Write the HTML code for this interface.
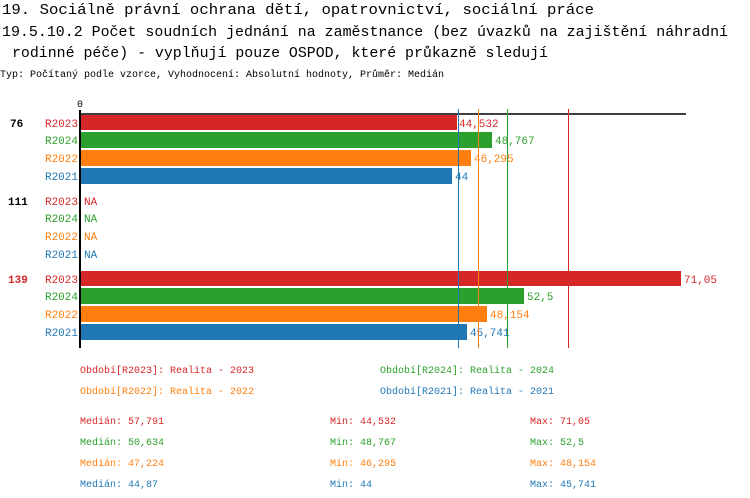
<!DOCTYPE html>
<html><head><meta charset="utf-8"><style>
body{margin:0;background:#fff;}
svg{display:block;font-family:"Liberation Mono",monospace;}
</style></head><body>
<svg width="750" height="498" xmlns="http://www.w3.org/2000/svg">
<g font-size="15" fill="#000">
<text x="2" y="14" textLength="592" lengthAdjust="spacingAndGlyphs">19. Sociálně právní ochrana dětí, opatrovnictví, sociální práce</text>
<text x="2" y="36" textLength="726" lengthAdjust="spacingAndGlyphs">19.5.10.2 Počet soudních jednání na zaměstnance (bez úvazků na zajištění náhradní</text>
<text x="12" y="57" textLength="536" lengthAdjust="spacingAndGlyphs">rodinné péče) - vyplňují pouze OSPOD, které průkazně sledují</text>
</g>
<text x="0" y="77" font-size="10" textLength="444" lengthAdjust="spacingAndGlyphs">Typ: Počítaný podle vzorce, Vyhodnocení: Absolutní hodnoty, Průměr: Medián</text>
<text x="77" y="107" font-size="10">0</text>
<line x1="80" y1="114" x2="686" y2="114" stroke="#000" stroke-width="1.5"/>
<line x1="80" y1="110" x2="80" y2="348" stroke="#000" stroke-width="2"/>
<g font-size="11">
<text x="10" y="127" font-weight="bold">76</text>
<text x="8" y="205" font-weight="bold">111</text>
<text x="8" y="283" font-weight="bold" fill="#d62728">139</text>
<rect x="81" y="115" width="376" height="15" fill="#d62728"/>
<rect x="81" y="132" width="411" height="16" fill="#2ca02c"/>
<rect x="81" y="150" width="390" height="16" fill="#ff7f0e"/>
<rect x="81" y="168" width="371" height="16" fill="#1f77b4"/>
<rect x="81" y="271" width="600" height="15" fill="#d62728"/>
<rect x="81" y="288" width="443" height="16" fill="#2ca02c"/>
<rect x="81" y="306" width="406" height="16" fill="#ff7f0e"/>
<rect x="81" y="324" width="386" height="16" fill="#1f77b4"/>
<g text-anchor="end">
<text x="78" y="127" fill="#d62728">R2023</text><text x="78" y="144" fill="#2ca02c">R2024</text><text x="78" y="162" fill="#ff7f0e">R2022</text><text x="78" y="180" fill="#1f77b4">R2021</text>
<text x="78" y="205" fill="#d62728">R2023</text><text x="78" y="222" fill="#2ca02c">R2024</text><text x="78" y="240" fill="#ff7f0e">R2022</text><text x="78" y="258" fill="#1f77b4">R2021</text>
<text x="78" y="283" fill="#d62728">R2023</text><text x="78" y="300" fill="#2ca02c">R2024</text><text x="78" y="318" fill="#ff7f0e">R2022</text><text x="78" y="336" fill="#1f77b4">R2021</text>
</g>
<text x="459" y="127" fill="#d62728">44,532</text><text x="495" y="144" fill="#2ca02c">48,767</text><text x="474" y="162" fill="#ff7f0e">46,295</text><text x="455" y="180" fill="#1f77b4">44</text>
<text x="84" y="205" fill="#d62728">NA</text><text x="84" y="222" fill="#2ca02c">NA</text><text x="84" y="240" fill="#ff7f0e">NA</text><text x="84" y="258" fill="#1f77b4">NA</text>
<text x="684" y="283" fill="#d62728">71,05</text><text x="527" y="300" fill="#2ca02c">52,5</text><text x="490" y="318" fill="#ff7f0e">48,154</text><text x="470" y="336" fill="#1f77b4">45,741</text>
</g>
<line x1="458.5" y1="109" x2="458.5" y2="348" stroke="#1f77b4"/>
<line x1="478.5" y1="109" x2="478.5" y2="348" stroke="#ff7f0e"/>
<line x1="507.5" y1="109" x2="507.5" y2="348" stroke="#2ca02c"/>
<line x1="568.5" y1="109" x2="568.5" y2="348" stroke="#d62728"/>
<g font-size="10">
<text x="80" y="373" fill="#d62728">Období[R2023]: Realita - 2023</text>
<text x="380" y="373" fill="#2ca02c">Období[R2024]: Realita - 2024</text>
<text x="80" y="394" fill="#ff7f0e">Období[R2022]: Realita - 2022</text>
<text x="380" y="394" fill="#1f77b4">Období[R2021]: Realita - 2021</text>
<text x="80" y="424" fill="#d62728">Medián: 57,791</text><text x="330" y="424" fill="#d62728">Min: 44,532</text><text x="530" y="424" fill="#d62728">Max: 71,05</text>
<text x="80" y="445" fill="#2ca02c">Medián: 50,634</text><text x="330" y="445" fill="#2ca02c">Min: 48,767</text><text x="530" y="445" fill="#2ca02c">Max: 52,5</text>
<text x="80" y="466" fill="#ff7f0e">Medián: 47,224</text><text x="330" y="466" fill="#ff7f0e">Min: 46,295</text><text x="530" y="466" fill="#ff7f0e">Max: 48,154</text>
<text x="80" y="487" fill="#1f77b4">Medián: 44,87</text><text x="330" y="487" fill="#1f77b4">Min: 44</text><text x="530" y="487" fill="#1f77b4">Max: 45,741</text>
</g>
</svg>
</body></html>
